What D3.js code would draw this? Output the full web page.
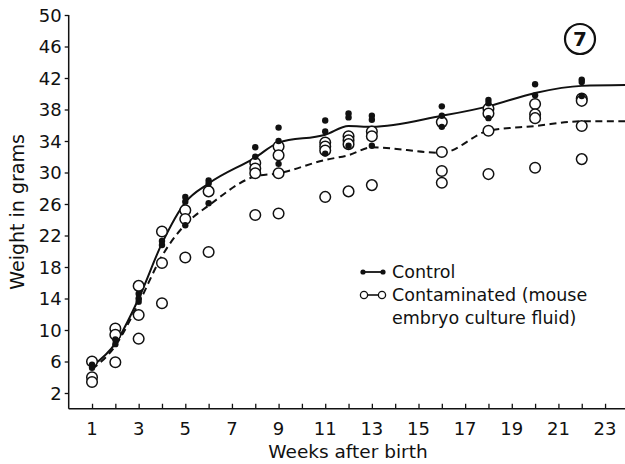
<!DOCTYPE html>
<html><head><meta charset="utf-8">
<script src="https://cdn.jsdelivr.net/npm/d3@7"></script>
<style>body{margin:0;background:#fff}svg{display:block}text{font-family:"DejaVu Sans",sans-serif;fill:#111}</style>
</head><body><svg id="c" width="625" height="464"></svg>
<script>
const weeks = [1,2,3,4,5,6,8,9,11,12,13,16,18,20,22,24];
const controlMean = [5.4,8.3,14.0,21.0,26.2,28.6,31.9,33.8,34.8,35.9,35.8,37.2,38.4,40.1,41.0,41.1];
const contamMean  = [5.0,8.0,13.4,19.4,23.4,25.8,29.5,29.9,31.6,32.2,33.2,32.5,35.3,35.9,36.5,36.5];
const controlPoints = [[1,5.6],[1,5.2],[2,8.8],[2,8.2],[3,14.6],[3,14.0],[3,13.6],[4,21.3],[4,20.8],
  [5,26.9],[5,26.3],[5,23.3],[6,29.0],[6,28.6],[6,26.1],[8,33.2],[8,32.0],[9,35.7],[9,34.0],[9,31.1],
  [11,36.6],[11,35.2],[11,32.4],[12,37.5],[12,37.0],[12,33.4],[13,37.2],[13,36.7],[13,33.4],
  [16,38.4],[16,37.2],[16,35.8],[18,39.2],[18,38.8],[18,36.9],[20,41.2],[20,39.8],[22,41.8],[22,41.5],[22,39.7]];
const contamPoints = [[1,6.0],[1,4.0],[1,3.4],[2,10.2],[2,9.4],[2,5.9],[3,15.6],[3,11.9],[3,8.9],
  [4,22.5],[4,18.5],[4,13.4],[5,25.2],[5,24.1],[5,19.2],[6,27.6],[6,19.9],
  [8,31.2],[8,30.5],[8,29.9],[8,24.6],[9,33.3],[9,32.2],[9,29.9],[9,24.8],
  [11,33.8],[11,33.3],[11,32.8],[11,26.9],[12,34.6],[12,34.1],[12,33.6],[12,27.6],
  [13,35.2],[13,34.6],[13,28.4],[16,36.4],[16,32.6],[16,30.2],[16,28.7],
  [18,38.1],[18,37.5],[18,35.3],[18,29.8],[20,38.7],[20,37.4],[20,36.9],[20,30.6],
  [22,39.4],[22,39.1],[22,35.9],[22,31.7]];
const yTicks = [2,6,10,14,18,22,26,30,34,38,42,46,50];
const xTicks = d3.range(1,24);
const xLabels = [1,3,5,7,9,11,13,15,17,19,21,23];
const legendLabels = ["Control","Contaminated (mouse","embryo culture  fluid)"];

const svg = d3.select("#c");
const x = d3.scaleLinear().domain([0,24]).range([68.7, 68.7+24*23.32]);
const y = d3.scaleLinear().domain([0,50]).range([408.75,15]);
const X0 = x(0), XR = 625, Y0 = y(0);

// axes
const xAxis = d3.axisBottom(x).tickValues(xTicks).tickSize(-5).tickFormat("");
const gx = svg.append("g").attr("transform",`translate(0,${Y0})`).call(xAxis);
gx.select(".domain").remove();
gx.selectAll("line").attr("stroke","#111").attr("stroke-width",1.3);
svg.append("line").attr("x1",X0).attr("x2",XR).attr("y1",Y0).attr("y2",Y0).attr("stroke","#111").attr("stroke-width",1.5);
svg.append("g").selectAll("text").data(xLabels).join("text")
  .attr("x",d=>x(d)).attr("y",Y0+26).attr("text-anchor","middle").attr("font-size",18).text(d=>d);

const yAxis = d3.axisLeft(y).tickValues(yTicks).tickSize(4).tickPadding(3).tickFormat(d=>d);
const gy = svg.append("g").attr("transform",`translate(${X0},0)`).call(yAxis);
gy.select(".domain").remove();
gy.selectAll("line").attr("stroke","#111").attr("stroke-width",1.3);
gy.selectAll("text").attr("font-size",18).attr("dy","0.36em").style("font-family","DejaVu Sans");
svg.append("line").attr("x1",X0).attr("x2",X0).attr("y1",y(50)).attr("y2",Y0).attr("stroke","#111").attr("stroke-width",1.5);

svg.append("text").attr("transform",`translate(24,${(y(50)+Y0)/2}) rotate(-90)`).attr("text-anchor","middle")
  .attr("font-size",19).text("Weight in grams");
svg.append("text").attr("x",348).attr("y",458).attr("text-anchor","middle").attr("font-size",18.5).text("Weeks after birth");

// lines
const line = d3.line().x(d=>x(d[0])).y(d=>y(d[1])).curve(d3.curveMonotoneX);
svg.append("clipPath").attr("id","cp").append("rect").attr("x",X0).attr("y",0).attr("width",XR-X0).attr("height",Y0);
svg.append("path").attr("clip-path","url(#cp)").datum(weeks.map((w,i)=>[w,contamMean[i]])).attr("d",line)
  .attr("fill","none").attr("stroke","#111").attr("stroke-width",2).attr("stroke-dasharray","7,4.5");
svg.append("path").attr("clip-path","url(#cp)").datum(weeks.map((w,i)=>[w,controlMean[i]])).attr("d",line)
  .attr("fill","none").attr("stroke","#111").attr("stroke-width",2);

// points
svg.append("g").selectAll("circle").data(contamPoints).join("circle")
  .attr("cx",d=>x(d[0])).attr("cy",d=>y(d[1])).attr("r",5.3)
  .attr("fill","#fff").attr("stroke","#111").attr("stroke-width",1.5);
svg.append("g").selectAll("circle").data(controlPoints).join("circle")
  .attr("cx",d=>x(d[0])).attr("cy",d=>y(d[1])).attr("r",3.2).attr("fill","#111");

// legend
const lg = svg.append("g");
lg.append("line").attr("x1",363).attr("x2",383).attr("y1",272).attr("y2",272).attr("stroke","#111").attr("stroke-width",1.8);
lg.selectAll(".ld").data([363,383]).join("circle").attr("cx",d=>d).attr("cy",272).attr("r",2.6).attr("fill","#111");
lg.append("line").attr("x1",368).attr("x2",378).attr("y1",295).attr("y2",295).attr("stroke","#111").attr("stroke-width",1.6);
lg.selectAll(".lo").data([364,382]).join("circle").attr("cx",d=>d).attr("cy",295).attr("r",3.6)
  .attr("fill","#fff").attr("stroke","#111").attr("stroke-width",1.3);
lg.selectAll("text").data(legendLabels).join("text").attr("x",392).attr("y",(d,i)=>278+i*23)
  .attr("font-size",17.5).text(d=>d);

// figure number
svg.append("circle").attr("cx",580).attr("cy",39).attr("r",15).attr("fill","none").attr("stroke","#111").attr("stroke-width",2.2);
svg.append("text").attr("x",580).attr("y",46).attr("text-anchor","middle").attr("font-size",20).attr("font-weight","bold").text("7");
</script></body></html>
